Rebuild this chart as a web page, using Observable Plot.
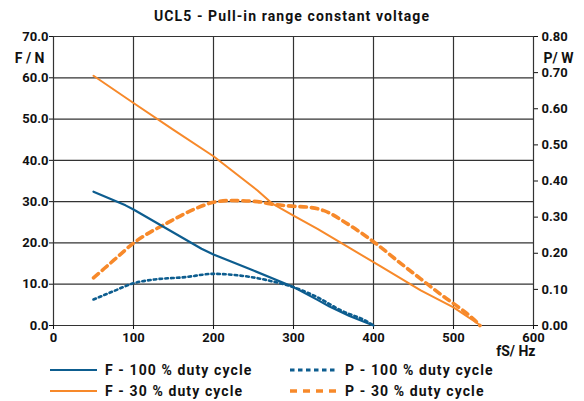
<!DOCTYPE html>
<html>
<head>
<meta charset="utf-8">
<script src="https://cdn.jsdelivr.net/npm/d3@7"></script>
<script src="https://cdn.jsdelivr.net/npm/@observablehq/plot@0.6"></script>
<style>
  html, body { margin: 0; padding: 0; background: #fff; }
  #wrap { position: relative; width: 584px; height: 401px; font-family: Roboto, "DejaVu Sans", sans-serif; font-weight: bold; color: #111; }
  #title { position: absolute; left: 0; top: 4px; width: 584px; text-align: center; font-size: 14px; line-height: 24px; letter-spacing: 1.1px; }
  #chart { position: absolute; left: 0; top: 26px; }
  .leg { position: absolute; font-size: 14px; line-height: 20px; height: 20px; display: flex; align-items: center; letter-spacing: 1.1px; }
  .leg svg { margin-right: 8px; }
</style>
</head>
<body>
<div id="wrap">
  <div id="title">UCL5 - Pull-in range constant voltage</div>
  <div id="chart"></div>
  <div id="legend"></div>
</div>
<script>
// Axis ticks
const xTicks = [0, 100, 200, 300, 400, 500, 600];
const fTicks = [0, 10, 20, 30, 40, 50, 60, 70];
const pTicks = [0, 0.1, 0.2, 0.3, 0.4, 0.5, 0.6, 0.7, 0.8];

// F - 100 % duty cycle (force, N)
const f100Hz = [50, 90, 100, 185, 200, 250, 300, 330, 345, 370, 400];
const f100N  = [32.4, 29.1, 28.1, 18.6, 17.2, 13.3, 9.3, 6.2, 4.6, 2.3, 0];

// F - 30 % duty cycle (force, N)
const f30Hz = [50, 100, 150, 200, 255, 273, 300, 330, 370, 409, 459, 500, 534];
const f30N  = [60.5, 53.9, 47.4, 41.0, 32.7, 29.6, 26.6, 23.4, 18.8, 14.3, 8.5, 4.4, 0];

// P - 100 % duty cycle (power, W)
const p100Hz = [50, 75, 100, 125, 165, 200, 230, 250, 270, 300, 330, 360, 392, 400];
const p100W  = [0.072, 0.095, 0.117, 0.127, 0.134, 0.143, 0.139, 0.133, 0.124, 0.106, 0.078, 0.041, 0.011, 0];

// P - 30 % duty cycle (power, W)
const p30Hz = [50, 75, 100, 144, 175, 200, 222, 255, 270, 300, 320, 338, 367, 400, 434, 459, 486, 511, 525, 533];
const p30W  = [0.132, 0.18, 0.228, 0.286, 0.321, 0.341, 0.346, 0.343, 0.337, 0.330, 0.327, 0.318, 0.282, 0.232, 0.172, 0.129, 0.083, 0.043, 0.018, 0];

const seriesNames = ["F - 100 % duty cycle", "P - 100 % duty cycle", "F - 30 % duty cycle", "P - 30 % duty cycle"];

const BLUE = "#0d5d8f";
const ORANGE = "#f7892a";
const K = 70 / 0.8; // secondary axis: P (W) -> F scale units

const f100 = f100Hz.map((x, i) => ({x, y: f100N[i]}));
const f30 = f30Hz.map((x, i) => ({x, y: f30N[i]}));
const p100 = p100Hz.map((x, i) => ({x, y: p100W[i] * K}));
const p30 = p30Hz.map((x, i) => ({x, y: p30W[i] * K}));

const chart = Plot.plot({
  width: 584,
  height: 334,
  marginLeft: 53,
  marginRight: 51,
  marginTop: 10,
  marginBottom: 35,
  style: {fontFamily: "Roboto, 'DejaVu Sans', sans-serif", fontWeight: "bold", fontSize: "13px", color: "#111", background: "white", overflow: "visible"},
  x: {domain: [0, 600]},
  y: {domain: [0, 70]},
  marks: [
    Plot.ruleX(xTicks, {stroke: "#333", strokeWidth: 1.2}),
    Plot.ruleY(fTicks, {stroke: "#333", strokeWidth: 1.2}),
    Plot.axisX({ticks: xTicks, tickFormat: d => String(d), tickSize: 4, tickPadding: 3, label: null, stroke: "#111"}),
    Plot.axisY({ticks: fTicks, tickFormat: d => d.toFixed(1), tickSize: 4, tickPadding: 1, label: null, stroke: "#111"}),
    Plot.axisY({anchor: "right", ticks: pTicks.map(p => p * K), tickFormat: d => (d / K).toFixed(2), tickSize: 4, tickPadding: 4, label: null, stroke: "#111"}),
    Plot.line(f30, {x: "x", y: "y", stroke: ORANGE, strokeWidth: 2}),
    Plot.line(p30, {x: "x", y: "y", stroke: ORANGE, strokeWidth: 3.6, strokeDasharray: "6.5,5", curve: "monotone-x"}),
    Plot.line(f100, {x: "x", y: "y", stroke: BLUE, strokeWidth: 2.2}),
    Plot.line(p100, {x: "x", y: "y", stroke: BLUE, strokeWidth: 2.6, strokeDasharray: "2.6,3.2", curve: "monotone-x"}),
    Plot.text(["F / N"], {text: d => d, frameAnchor: "top-left", textAnchor: "end", dx: -9, dy: 17, fontSize: 14, fontWeight: "bold", fill: "#111"}),
    Plot.text(["P/ W"], {text: d => d, frameAnchor: "top-right", textAnchor: "start", dx: 10, dy: 17, fontSize: 14, fontWeight: "bold", fill: "#111"}),
    Plot.text(["fS/ Hz"], {text: d => d, frameAnchor: "bottom-right", textAnchor: "end", dx: 2, dy: 30, fontSize: 14, fontWeight: "bold", fill: "#111"})
  ]
});
document.getElementById("chart").appendChild(chart);

// Legend
const legendStyles = [
  {color: BLUE, width: 2.2, dash: null, left: 50, top: 360},
  {color: BLUE, width: 2.8, dash: "4.5,3.5", left: 290, top: 360},
  {color: ORANGE, width: 2, dash: null, left: 50, top: 381},
  {color: ORANGE, width: 3.6, dash: "7,6", left: 290, top: 381}
];
seriesNames.forEach((name, i) => {
  const s = legendStyles[i];
  const div = document.createElement("div");
  div.className = "leg";
  div.style.left = s.left + "px";
  div.style.top = s.top + "px";
  div.innerHTML = `<svg width="47" height="8"><line x1="0" y1="4" x2="47" y2="4" stroke="${s.color}" stroke-width="${s.width}" ${s.dash ? `stroke-dasharray="${s.dash}"` : ""}/></svg><span>${name}</span>`;
  document.getElementById("wrap").appendChild(div);
});
</script>
</body>
</html>
